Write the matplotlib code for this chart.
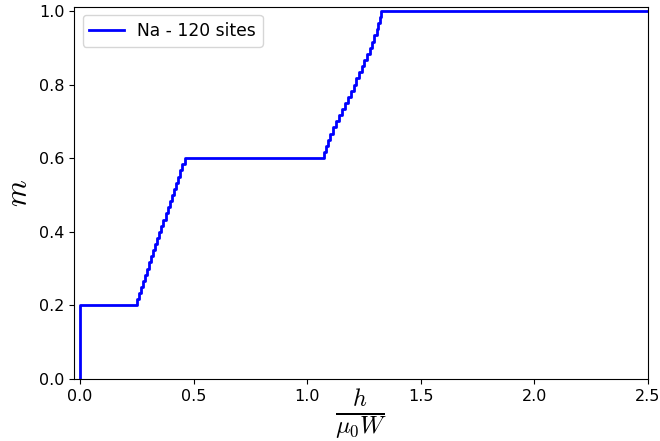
import matplotlib
matplotlib.use("Agg")
import matplotlib.pyplot as plt

plt.rcParams["mathtext.fontset"] = "cm"

# step positions (field h / mu0 W) and magnetization levels
h_rise1 = [0.250, 0.259, 0.268, 0.277, 0.286, 0.295, 0.304, 0.313, 0.322, 0.331,
           0.340, 0.349, 0.358, 0.367, 0.376, 0.385, 0.394, 0.403, 0.413, 0.422,
           0.431, 0.440, 0.450, 0.463]
m_rise1 = [0.2167, 0.2333, 0.2500, 0.2667, 0.2833, 0.3000, 0.3167, 0.3333, 0.3500, 0.3667,
           0.3833, 0.4000, 0.4167, 0.4333, 0.4500, 0.4667, 0.4833, 0.5000, 0.5167, 0.5333,
           0.5500, 0.5667, 0.5833, 0.6000]
h_rise2 = [1.074, 1.082, 1.090, 1.102, 1.115, 1.128, 1.141, 1.154, 1.167, 1.179,
           1.192, 1.204, 1.216, 1.228, 1.240, 1.251, 1.263, 1.274, 1.285, 1.295,
           1.305, 1.313, 1.319, 1.325]
m_rise2 = [0.6167, 0.6333, 0.6500, 0.6667, 0.6833, 0.7000, 0.7167, 0.7333, 0.7500, 0.7667,
           0.7833, 0.8000, 0.8167, 0.8333, 0.8500, 0.8667, 0.8833, 0.9000, 0.9167, 0.9333,
           0.9500, 0.9667, 0.9833, 1.0000]
h_start = [0.0, 0.0]
m_start = [0.0, 0.2]
h_end = [2.5]
m_end = [1.0]

h = h_start + h_rise1 + h_rise2 + h_end
m = m_start + m_rise1 + m_rise2 + m_end

fig = plt.figure(figsize=(6.6, 4.41), dpi=100)
ax = fig.add_axes([74/660, 1 - 379/441, (648-74)/660, (379-6.5)/441])
ax.plot(h, m, drawstyle="steps-post", color="blue", lw=2, label="Na - 120 sites")
ax.set_xlim(-0.027, 2.5)
ax.set_ylim(0, 1.012)
ax.set_xticks([0.0, 0.5, 1.0, 1.5, 2.0, 2.5])
ax.set_yticks([0.0, 0.2, 0.4, 0.6, 0.8, 1.0])
ax.tick_params(labelsize=11.5)
ax.set_xlabel(r"$\frac{h}{\mu_0 W}$", fontsize=25, labelpad=-12)
ax.set_ylabel(r"$m$", fontsize=22)
ax.legend(loc="upper left", fontsize=12.3)
fig.savefig("out.png", dpi=100)
